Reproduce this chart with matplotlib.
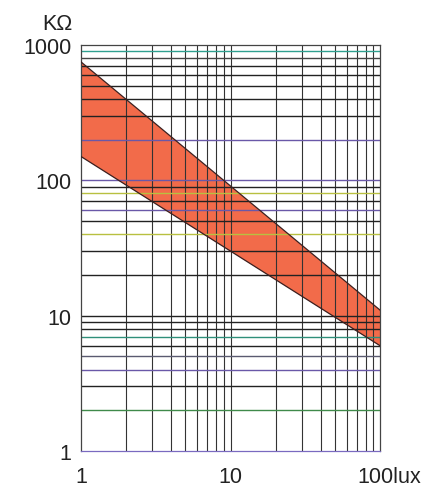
import matplotlib
matplotlib.use("Agg")
import matplotlib.pyplot as plt
import matplotlib.transforms as mtransforms
import numpy as np

# light level (lux) at the two ends of the band
lux = [1, 100]
# resistance range of the LDR in kOhm
r_max = [750, 11]
r_min = [150, 6]

x_ticks = [1, 10, 100]
x_labels = ["1", "10", "100lux"]
y_ticks = [1, 10, 100, 1000]
y_labels = ["1", "10", "100", "1000"]

# scanned grid: some horizontal rulings came out coloured
hline_colors = {
    2: "#3f8a4a", 3: "#222222", 4: "#6a58a8", 5: "#5a5a70", 6: "#222222",
    7: "#2f8f7a", 8: "#222222", 9: "#222222",
    20: "#222222", 30: "#222222", 40: "#b8c040", 50: "#222222",
    60: "#6a58a8", 70: "#222222", 80: "#b8c040", 90: "#222222",
    100: "#6a58a8", 200: "#6a58a8", 300: "#222222", 400: "#222222",
    500: "#222222", 600: "#222222", 700: "#222222", 800: "#444444",
    900: "#2fa090",
}

plt.rcParams["font.family"] = ["Liberation Sans", "DejaVu Sans"]

fig = plt.figure(figsize=(4.32, 4.89), dpi=100)
ax = fig.add_axes([81 / 432, 37 / 489, 299 / 432, 406 / 489])
ax.set_xscale("log")
ax.set_yscale("log")
ax.set_xlim(1, 100)
ax.set_ylim(1, 1000)

ax.fill_between(lux, r_min, r_max, color="#f26b4a", lw=0, zorder=1)
ax.plot(lux, r_max, color="#3a2020", lw=0.9, zorder=3)
ax.plot(lux, r_min, color="#3a2020", lw=0.9, zorder=3)

# grid: every integer step inside each decade
for dec in [1, 10]:
    for k in range(2, 10):
        ax.axvline(dec * k, color="#333333", lw=0.8, zorder=2)
ax.axvline(10, color="#333333", lw=0.8, zorder=2)
for dec in [1, 10, 100]:
    for k in range(1, 10):
        v = dec * k
        if v == 1:
            continue
        c = hline_colors.get(v, "#222222")
        ax.axhline(v, color=c, lw=1.0, zorder=2)

for side in ["left", "right", "top"]:
    ax.spines[side].set_color("#444444")
    ax.spines[side].set_linewidth(0.9)
ax.spines["bottom"].set_color("#7a6ac0")
ax.spines["bottom"].set_linewidth(0.9)

ax.set_xticks(x_ticks)
ax.set_xticklabels(x_labels)
ax.set_yticks(y_ticks)
ax.set_yticklabels(y_labels)
ax.minorticks_off()
ax.tick_params(length=0, labelsize=15.5, colors="#222222")
ax.tick_params(axis="x", pad=11)
ax.tick_params(axis="y", pad=7)

# shift "100lux" so the number sits under the right edge
lab = ax.get_xticklabels()[-1]
lab.set_transform(lab.get_transform() + mtransforms.ScaledTranslation(9 / 100, 0, fig.dpi_scale_trans))

fig.text(72 / 432, 1 - 24 / 489, "KΩ", ha="right", va="center", fontsize=15.5, color="#222222")

fig.savefig("out.png", dpi=100, facecolor="white")
